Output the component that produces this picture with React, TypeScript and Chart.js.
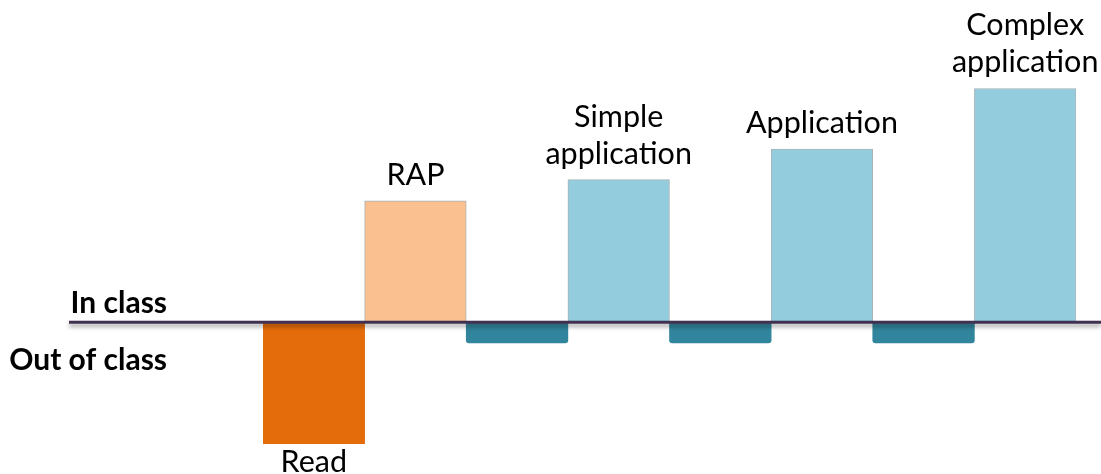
import { useEffect, useRef } from "react";
import { Chart, registerables } from "chart.js";

Chart.register(...registerables);

// Activities in sequence; blank slots hold the out-of-class work between sessions
const activities = ["Read", "RAP", "", "Simple application", "", "Application", "", "Complex application"];
const inClass = [null, 4.0, null, 4.7, null, 5.7, null, 7.7];
const outOfClass = [-4.0, null, -0.68, null, -0.68, null, -0.68, null];
const seriesNames = ["In class", "Out of class"];

const PEACH = "#FAC090";
const SKY = "#93CDDD";
const ORANGE = "#E46C0A";
const TEAL = "#31859C";
const AXIS = "#403152";
const FONT = "Lato, 'Open Sans', sans-serif";

const annotate = {
  id: "annotate",
  afterDatasetsDraw(chart: any) {
    const { ctx, scales } = chart;
    const zero = scales.y.getPixelForValue(0);

    // horizontal divider between in-class and out-of-class time
    ctx.save();
    ctx.shadowColor = "rgba(0,0,0,0.4)";
    ctx.shadowBlur = 4;
    ctx.shadowOffsetY = 3;
    ctx.strokeStyle = AXIS;
    ctx.lineWidth = 3;
    ctx.beginPath();
    ctx.moveTo(69, zero);
    ctx.lineTo(chart.width, zero);
    ctx.stroke();
    ctx.restore();

    ctx.save();
    ctx.fillStyle = "#000";
    ctx.font = `bold 30px ${FONT}`;
    ctx.textAlign = "right";
    ctx.textBaseline = "alphabetic";
    ctx.fillText(chart.data.datasets[0].label, 167, zero - 9);
    ctx.fillText(chart.data.datasets[1].label, 167, zero + 48);

    // activity names above / below their bars
    ctx.font = `30.5px ${FONT}`;
    ctx.textAlign = "center";
    const lineH = 37;
    activities.forEach((name, i) => {
      if (!name) return;
      const dsIndex = inClass[i] !== null ? 0 : 1;
      const bar = chart.getDatasetMeta(dsIndex).data[i];
      if (!bar) return;
      const lines = name.split(" ");
      if (dsIndex === 0) {
        lines.forEach((ln, k) => {
          ctx.fillText(ln, bar.x, bar.y - 16 - (lines.length - 1 - k) * lineH);
        });
      } else {
        lines.forEach((ln, k) => {
          ctx.fillText(ln, bar.x, bar.y + 28 + k * lineH);
        });
      }
    });
    ctx.restore();
  },
};

export default function App() {
  const canvasRef = useRef<HTMLCanvasElement | null>(null);

  useEffect(() => {
    document.body.style.margin = "0";
    const canvas = canvasRef.current;
    if (!canvas) return;
    const chart = new Chart(canvas, {
      type: "bar",
      data: {
        labels: activities,
        datasets: [
          {
            label: seriesNames[0],
            data: inClass,
            backgroundColor: (c: any) => (c.dataIndex === 1 ? PEACH : SKY),
            borderColor: "#a9b3b6",
            borderWidth: 1,
            barPercentage: 1,
            categoryPercentage: 1,
          },
          {
            label: seriesNames[1],
            data: outOfClass,
            backgroundColor: (c: any) => (c.dataIndex === 0 ? ORANGE : TEAL),
            borderWidth: 0,
            borderRadius: (c: any) => (c.dataIndex === 0 ? 0 : 3),
            barPercentage: 1,
            categoryPercentage: 1,
          },
        ],
      },
      options: {
        responsive: true,
        maintainAspectRatio: false,
        animation: false,
        layout: { padding: { left: 263, right: 25, top: 49, bottom: 3 } },
        plugins: { legend: { display: false }, tooltip: { enabled: false } },
        scales: {
          x: { display: false, stacked: true },
          y: { display: false, stacked: true, min: -4.9, max: 9 },
        },
      },
      plugins: [annotate],
    });
    return () => chart.destroy();
  }, []);

  return (
    <div style={{ position: "relative", width: 1101, height: 474 }}>
      <canvas ref={canvasRef} />
    </div>
  );
}
